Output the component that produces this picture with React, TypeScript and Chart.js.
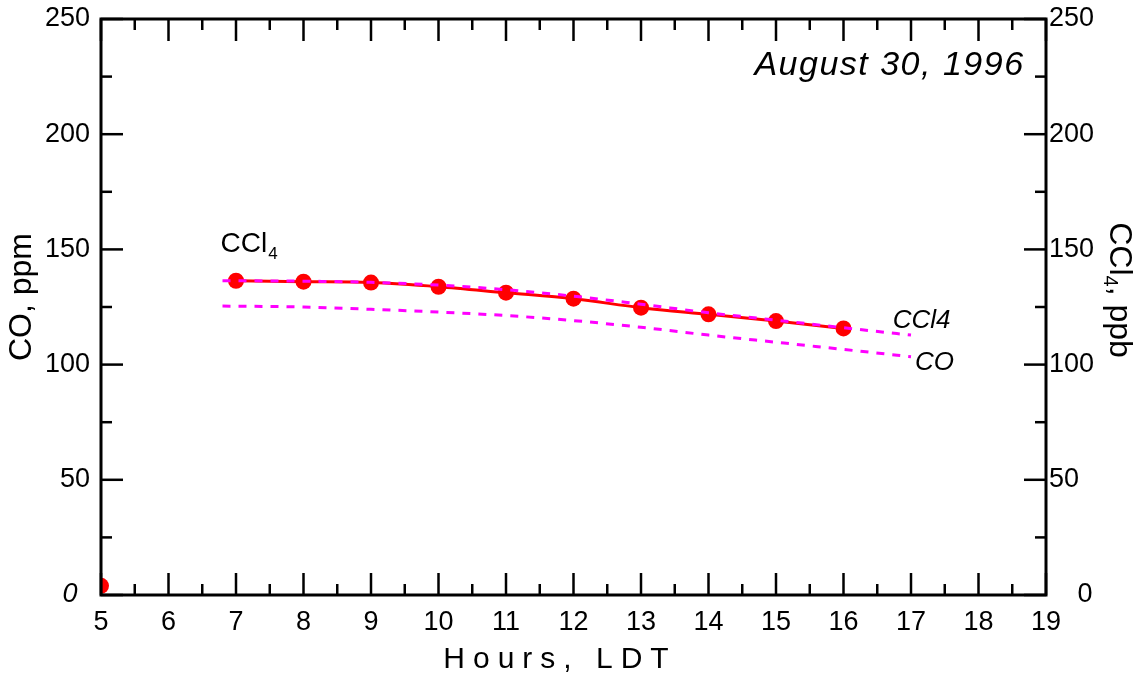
import React, { useEffect, useRef } from "react";
import { Chart, registerables } from "chart.js";

Chart.register(...registerables);

// ---- data ----
const hours = [7, 8, 9, 10, 11, 12, 13, 14, 15, 16];
const ccl4Measured = [136.4, 136.0, 135.6, 133.8, 131.2, 128.6, 124.7, 121.8, 118.9, 115.7];
const fitHours = [6.8, 8, 9, 10, 11, 12, 13, 14, 15, 16, 17];
const ccl4Fit = [136.4, 136.2, 135.7, 134.5, 132.5, 129.7, 126.2, 122.5, 119.3, 116.0, 112.8];
const coFit = [125.4, 125.0, 124.0, 122.8, 121.3, 119.1, 116.2, 112.8, 109.7, 106.6, 103.4];
const coHours = [5];
const coMeasured = [4];
const xTickValues = [5, 6, 7, 8, 9, 10, 11, 12, 13, 14, 15, 16, 17, 18, 19];
const yTickValues = [0, 50, 100, 150, 200, 250];

const FONT = '"Liberation Sans", Arial, Helvetica, sans-serif';
const W = 1143;
const H = 675;

const framePlugin = {
  id: "frame",
  afterDraw(chart: any) {
    const { ctx, chartArea: a, scales } = chart;
    const xs = scales.x;
    const ys = scales.y;
    const line = (x1: number, y1: number, x2: number, y2: number) => {
      ctx.beginPath();
      ctx.moveTo(x1, y1);
      ctx.lineTo(x2, y2);
      ctx.stroke();
    };
    ctx.save();
    ctx.strokeStyle = "#000";
    ctx.lineCap = "butt";
    ctx.lineWidth = 2.5;
    xTickValues.forEach((h, i) => {
      const px = xs.getPixelForValue(h);
      line(px, a.bottom, px, a.bottom - 22);
      line(px, a.top, px, a.top + 22);
      if (i < xTickValues.length - 1) {
        const mx = xs.getPixelForValue((h + xTickValues[i + 1]) / 2);
        line(mx, a.bottom, mx, a.bottom - 11);
        line(mx, a.top, mx, a.top + 11);
      }
    });
    yTickValues.forEach((v, i) => {
      const py = ys.getPixelForValue(v);
      line(a.left, py, a.left + 22, py);
      line(a.right, py, a.right - 22, py);
      if (i < yTickValues.length - 1) {
        const my = ys.getPixelForValue((v + yTickValues[i + 1]) / 2);
        line(a.left, my, a.left + 11, my);
        line(a.right, my, a.right - 11, my);
      }
    });
    ctx.lineWidth = 3;
    ctx.strokeRect(a.left, a.top, a.right - a.left, a.bottom - a.top);

    ctx.fillStyle = "#000";
    // date title
    ctx.font = `italic 34px ${FONT}`;
    (ctx as any).letterSpacing = "1.5px";
    ctx.textAlign = "right";
    ctx.textBaseline = "alphabetic";
    ctx.fillText("August 30, 1996", xs.getPixelForValue(18.66) + 1.5, ys.getPixelForValue(225.7));
    (ctx as any).letterSpacing = "0px";

    // CCl4 label near data
    ctx.textAlign = "left";
    ctx.font = `28px ${FONT}`;
    const cx = xs.getPixelForValue(6.77);
    const cy = ys.getPixelForValue(148.9);
    ctx.fillText("CCl", cx, cy);
    const cw = ctx.measureText("CCl").width;
    ctx.font = `17px ${FONT}`;
    ctx.fillText("4", cx + cw + 1, cy + 7);

    // fit labels
    ctx.font = `italic 26px ${FONT}`;
    ctx.fillText("CCl4", xs.getPixelForValue(16.73), ys.getPixelForValue(115.9));
    ctx.fillText("CO", xs.getPixelForValue(17.06), ys.getPixelForValue(97.7));

    // zero labels
    ctx.textAlign = "center";
    ctx.textBaseline = "middle";
    ctx.font = `italic 27px ${FONT}`;
    ctx.fillText("0", 70, ys.getPixelForValue(0) - 1);
    ctx.font = `27px ${FONT}`;
    ctx.fillText("0", 1085, ys.getPixelForValue(0));

    // x axis title with letter spacing
    ctx.font = `30px ${FONT}`;
    (ctx as any).letterSpacing = "8px";
    ctx.textAlign = "left";
    ctx.textBaseline = "alphabetic";
    const xt = "Hours, LDT";
    const xw = ctx.measureText(xt).width - 8;
    ctx.fillText(xt, 556 - xw / 2, 668);
    (ctx as any).letterSpacing = "0px";

    // left y title
    ctx.save();
    ctx.translate(22, 297);
    ctx.rotate(-Math.PI / 2);
    ctx.font = `32px ${FONT}`;
    ctx.textAlign = "center";
    ctx.textBaseline = "middle";
    ctx.fillText("CO, ppm", 0, 0);
    ctx.restore();

    // right y title (reads top to bottom)
    ctx.save();
    ctx.translate(1119, 290);
    ctx.rotate(Math.PI / 2);
    ctx.textBaseline = "middle";
    ctx.textAlign = "left";
    ctx.font = `32px ${FONT}`;
    const p1 = "CCl";
    const p3 = ", ppb";
    const w1 = ctx.measureText(p1).width;
    const w3 = ctx.measureText(p3).width;
    ctx.font = `20px ${FONT}`;
    const w2 = ctx.measureText("4").width;
    const total = w1 + w2 + w3;
    let tx = -total / 2;
    ctx.font = `32px ${FONT}`;
    ctx.fillText(p1, tx, 0);
    tx += w1;
    ctx.font = `20px ${FONT}`;
    ctx.fillText("4", tx, 9);
    tx += w2;
    ctx.font = `32px ${FONT}`;
    ctx.fillText(p3, tx, 0);
    ctx.restore();

    ctx.restore();
  },
};

export default function App() {
  const ref = useRef<HTMLCanvasElement | null>(null);

  useEffect(() => {
    if (!ref.current) return;
    const tickFont = { family: FONT, size: 27 };
    const fitY = (w: number) => (s: any) => {
      s.width = w;
      s.paddingTop = 0;
      s.paddingBottom = 0;
    };
    const chart = new Chart(ref.current, {
      type: "line",
      data: {
        datasets: [
          {
            label: "CCl4 fit",
            data: fitHours.map((h, i) => ({ x: h, y: ccl4Fit[i] })),
            yAxisID: "y2",
            borderColor: "#ff00ff",
            borderWidth: 3,
            borderDash: [8, 8],
            pointRadius: 0,
            cubicInterpolationMode: "monotone",
            fill: false,
            clip: 0,
          },
          {
            label: "CO fit",
            data: fitHours.map((h, i) => ({ x: h, y: coFit[i] })),
            yAxisID: "y",
            borderColor: "#ff00ff",
            borderWidth: 3,
            borderDash: [8, 8],
            pointRadius: 0,
            cubicInterpolationMode: "monotone",
            fill: false,
            clip: 0,
          },
          {
            label: "CCl4",
            data: hours.map((h, i) => ({ x: h, y: ccl4Measured[i] })),
            yAxisID: "y2",
            borderColor: "#ff0000",
            backgroundColor: "#ff0000",
            borderWidth: 3,
            pointRadius: 8,
            pointBorderWidth: 0,
            pointBackgroundColor: "#ff0000",
            cubicInterpolationMode: "monotone",
            fill: false,
            clip: 0,
          },
          {
            label: "CO",
            data: coHours.map((h, i) => ({ x: h, y: coMeasured[i] })),
            yAxisID: "y",
            showLine: false,
            pointRadius: 8,
            pointBorderWidth: 0,
            pointBackgroundColor: "#ff0000",
            backgroundColor: "#ff0000",
            borderColor: "#ff0000",
            clip: 0,
          },
        ],
      },
      options: {
        animation: false,
        responsive: false,
        events: [],
        layout: { padding: { top: 19, left: 0, right: 0, bottom: 0 } },
        plugins: { legend: { display: false }, tooltip: { enabled: false } },
        scales: {
          x: {
            type: "linear",
            position: "bottom",
            min: 5,
            max: 19,
            afterBuildTicks: (s: any) => {
              s.ticks = xTickValues.map((v) => ({ value: v }));
            },
            afterFit: (s: any) => {
              s.height = 80;
              s.paddingLeft = 0;
              s.paddingRight = 0;
            },
            grid: { display: false, drawTicks: false, tickLength: 0 },
            border: { display: false },
            ticks: { font: tickFont, color: "#000", padding: 11, maxRotation: 0, autoSkip: false },
          },
          y: {
            type: "linear",
            position: "left",
            min: 0,
            max: 250,
            afterBuildTicks: (s: any) => {
              s.ticks = yTickValues.map((v) => ({ value: v }));
            },
            afterFit: fitY(101),
            grid: { display: false, drawTicks: false, tickLength: 0 },
            border: { display: false },
            ticks: {
              font: tickFont,
              color: "#000",
              padding: 11,
              autoSkip: false,
              callback: (v: any) => (v === 0 ? "" : String(v)),
            },
          },
          y2: {
            type: "linear",
            position: "right",
            min: 0,
            max: 250,
            afterBuildTicks: (s: any) => {
              s.ticks = yTickValues.map((v) => ({ value: v }));
            },
            afterFit: fitY(97),
            grid: { display: false, drawTicks: false, tickLength: 0 },
            border: { display: false },
            ticks: {
              font: tickFont,
              color: "#000",
              padding: 3,
              autoSkip: false,
              callback: (v: any) => (v === 0 ? "" : String(v)),
            },
          },
        },
      },
      plugins: [framePlugin],
    } as any);
    return () => chart.destroy();
  }, []);

  return (
    <div style={{ position: "absolute", left: 0, top: 0, width: W, height: H, background: "#fff" }}>
      <canvas ref={ref} width={W} height={H} style={{ display: "block" }} />
    </div>
  );
}
